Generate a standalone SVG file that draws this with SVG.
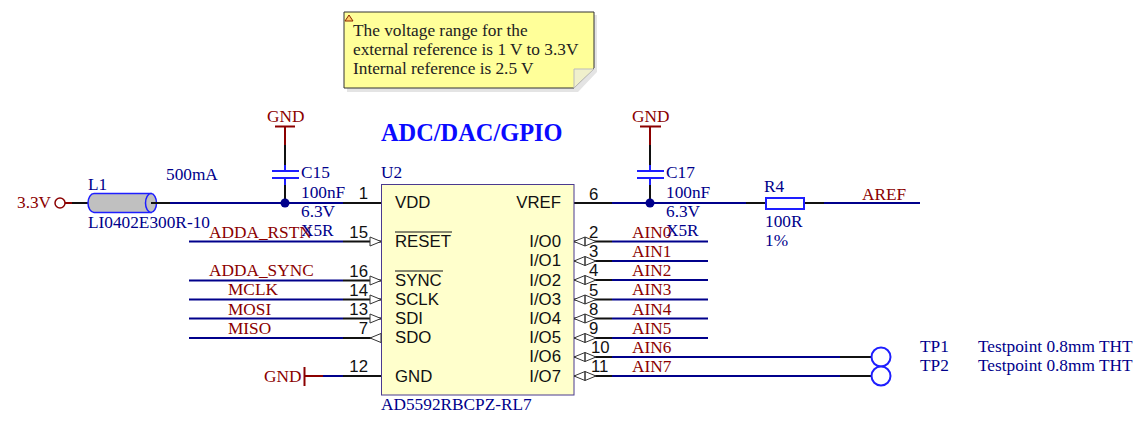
<svg xmlns="http://www.w3.org/2000/svg" width="1147" height="422" viewBox="0 0 1147 422">
<style>
text{font-family:"Liberation Serif",serif;font-size:17.300px}
.d{fill:#00008b}.r{fill:#8b0000}
.s{font-family:"Liberation Sans",sans-serif;fill:#111;font-size:16.800px}
.n{font-family:"Liberation Sans",sans-serif;fill:#111;font-size:16.800px}
.w{stroke:#00008b;stroke-width:2;fill:none}
.k{stroke:#111;stroke-width:2;fill:none}
.m{stroke:#8b0000;stroke-width:2;fill:none}
.b{stroke:#1e1eff;stroke-width:2;fill:none}
.a{stroke:#333;stroke-width:1;fill:#fff}
</style>
<rect width="1147" height="422" fill="#fff"/>
<g id="note">
<path d="M347 15V92H578L597 72V15Z" fill="#e4e4e4"/>
<path d="M344 12H594V68L574 88H344Z" fill="#ffff99" stroke="#333" stroke-width="1"/>
<path d="M574 88V69H594Z" fill="#f0f0cc" stroke="#bbb" stroke-width="1"/>
<path d="M345 21L349 15L353 21Z" fill="#ffcc66" stroke="#8b2500" stroke-width="1"/>
<text x="353" y="36" fill="#222">The voltage range for the</text>
<text x="353" y="55" fill="#222">external reference is 1 V to 3.3V</text>
<text x="353" y="74" fill="#222">Internal reference is 2.5 V</text>
</g>
<text x="381" y="141" style="font-size:24.400px;font-weight:bold" fill="#0a0aff">ADC/DAC/GPIO</text>
<g id="connectors">
<path class="w" d="M170 203H343M189 241.500H343M189 280.500H343M189 299.500H343M189 318.500H343M189 338H343M323 376H343M612 203H746M612 241.500H708M612 261H708M612 280H708M612 299.500H708M612 318.500H708M612 338H708M612 357H840M612 376H840M824 203H920"/>
<path class="k" d="M66 203H88M151 203H170M343 203H382M343 241.500H382M343 280.500H382M343 299.500H382M343 318.500H382M343 338H382M343 376H382M574 203H612M574 241.500H612M574 261H612M574 280H612M574 299.500H612M574 318.500H612M574 338H612M574 357H612M574 376H612M840 357H872M840 376H872M746 203H765M805 203H824M285 145V165M285 178V203M650 145V165M650 178V203"/>
<path class="m" d="M285 127V145M650 127V145M304 376H323"/>
<circle cx="285" cy="203" r="4.500" fill="#00008b"/>
<circle cx="650" cy="203" r="4.500" fill="#00008b"/>
</g>
<g id="U2">
<rect x="381.500" y="184.500" width="192.500" height="210.500" fill="#ffffcc" stroke="#4b3a8f" stroke-width="1"/>
<path class="a" d="M370 237V246L381 241.500ZM370 276V285L381 280.500ZM370 295V304L381 299.500ZM370 314V323L381 318.500ZM381 333.500V342.500L370 338Z"/>
<path class="a" d="M574 241.500L585 237V246ZM596 241.500L585 237V246ZM574 261L585 256.500V265.500ZM596 261L585 256.500V265.500ZM574 280L585 275.500V284.500ZM596 280L585 275.500V284.500ZM574 299.500L585 295V304ZM596 299.500L585 295V304ZM574 318.500L585 314V323ZM596 318.500L585 314V323ZM574 338L585 333.500V342.500ZM596 338L585 333.500V342.500ZM574 357L585 352.500V361.500ZM596 357L585 352.500V361.500ZM574 376L585 371.500V380.500ZM596 376L585 371.500V380.500Z"/>
<path d="M395 232H452M395 271H443" stroke="#111" stroke-width="1.200"/>
<text class="d" x="381" y="178">U2</text>
<text class="d" x="381" y="410">AD5592RBCPZ-RL7</text>
<text class="s" x="395" y="208">VDD</text><text class="s" x="395" y="247">RESET</text><text class="s" x="395" y="286">SYNC</text><text class="s" x="395" y="305">SCLK</text><text class="s" x="395" y="324">SDI</text><text class="s" x="395" y="343">SDO</text><text class="s" x="395" y="382">GND</text>
<g text-anchor="end"><text class="s" x="561" y="208">VREF</text><text class="s" x="561" y="247">I/O0</text><text class="s" x="561" y="266">I/O1</text><text class="s" x="561" y="286">I/O2</text><text class="s" x="561" y="305">I/O3</text><text class="s" x="561" y="324">I/O4</text><text class="s" x="561" y="343">I/O5</text><text class="s" x="561" y="362">I/O6</text><text class="s" x="561" y="382">I/O7</text>
<text class="n" x="368" y="199">1</text><text class="n" x="368" y="238">15</text><text class="n" x="368" y="277">16</text><text class="n" x="368" y="296">14</text><text class="n" x="368" y="315">13</text><text class="n" x="368" y="334">7</text><text class="n" x="368" y="372">12</text></g>
<text class="n" x="589" y="200">6</text><text class="n" x="589" y="238">2</text><text class="n" x="589" y="257">3</text><text class="n" x="589" y="276">4</text><text class="n" x="589" y="296">5</text><text class="n" x="589" y="315">8</text><text class="n" x="589" y="334">9</text><text class="n" x="591" y="353">10</text><text class="n" x="591" y="372">11</text>
</g>
<g id="nets">
<text class="r" x="209" y="238">ADDA_RSTN</text><text class="r" x="209" y="276">ADDA_SYNC</text><text class="r" x="228" y="295">MCLK</text><text class="r" x="228" y="315">MOSI</text><text class="r" x="228" y="334">MISO</text>
<text class="r" x="632" y="238">AIN0</text><text class="r" x="632" y="257">AIN1</text><text class="r" x="632" y="276">AIN2</text><text class="r" x="632" y="295">AIN3</text><text class="r" x="632" y="315">AIN4</text><text class="r" x="632" y="334">AIN5</text><text class="r" x="632" y="353">AIN6</text><text class="r" x="632" y="372">AIN7</text>
<text class="r" x="862" y="200">AREF</text>
</g>
<g id="P33"><circle cx="60" cy="203" r="5" fill="#fff" stroke="#8b0000" stroke-width="1.500"/><path class="m" d="M65 203H72"/><text class="r" x="17" y="208">3.3V</text></g>
<g id="L1"><path d="M94 193.500H151V212.500H94A6 9.500 0 0 1 94 193.500Z" fill="#c0c0c0" stroke="#1e1eff" stroke-width="1.500"/><ellipse cx="151" cy="203" rx="5.500" ry="9.500" fill="#c0c0c0" stroke="#1e1eff" stroke-width="1.500"/><path class="k" d="M151 203H170"/><text class="d" x="88" y="190">L1</text><text class="d" x="88" y="228">LI0402E300R-10</text><text class="d" x="166" y="180">500mA</text></g>
<g id="C15"><path class="b" d="M285 165V171M272 171H299M272 178H299M285 178V185"/><text class="d" x="301" y="178">C15</text><text class="d" x="301" y="198">100nF</text><text class="d" x="301" y="217">6.3V</text><text class="d" x="301" y="236">X5R</text></g>
<g id="C17"><path class="b" d="M650 165V171M637 171H664M637 178H664M650 178V185"/><text class="d" x="666" y="178">C17</text><text class="d" x="666" y="198">100nF</text><text class="d" x="666" y="217">6.3V</text><text class="d" x="666" y="236">X5R</text></g>
<g id="R4"><rect x="766" y="198" width="38" height="11" fill="#fff" stroke="#1e1eff" stroke-width="2"/><text class="d" x="764" y="192">R4</text><text class="d" x="765" y="227">100R</text><text class="d" x="765" y="246">1%</text></g>
<g id="GND1"><path class="m" d="M275 126.500H295"/><text class="r" x="267" y="122">GND</text></g>
<g id="GND2"><path class="m" d="M640 126.500H661"/><text class="r" x="632" y="122">GND</text></g>
<g id="GND3"><path class="m" d="M304.500 367V386"/><text class="r" x="264" y="382">GND</text></g>
<g id="TP1"><circle cx="881" cy="357" r="9.500" fill="#fff" stroke="#1e1eff" stroke-width="2"/><text class="d" x="920" y="352">TP1</text><text class="d" x="978" y="352">Testpoint 0.8mm THT</text></g>
<g id="TP2"><circle cx="881" cy="376" r="9.500" fill="#fff" stroke="#1e1eff" stroke-width="2"/><text class="d" x="920" y="371">TP2</text><text class="d" x="978" y="371">Testpoint 0.8mm THT</text></g>
</svg>
